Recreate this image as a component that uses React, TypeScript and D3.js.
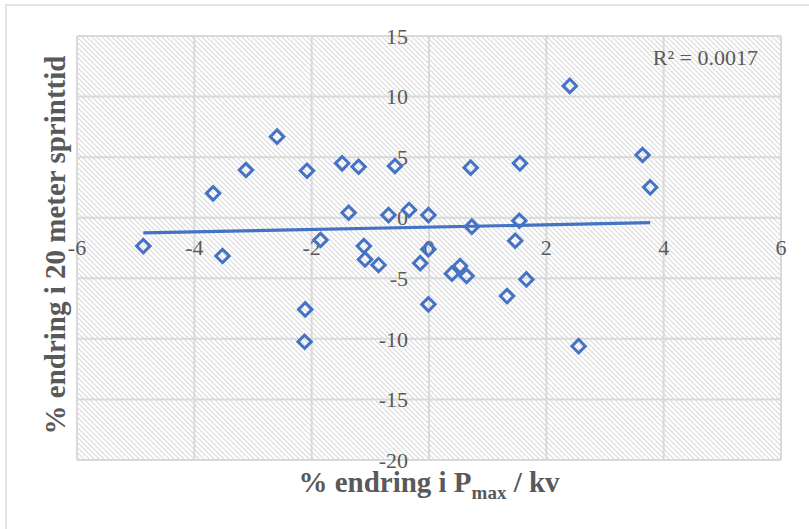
import React from 'react'
import * as d3 from 'd3'

// % change in Pmax / kv
const pmaxChange = [
    -4.87, -3.68, -3.52, -3.12, -2.59, -2.08, -1.85, -1.48, -1.37, -1.2,
    -1.11, -1.09, -0.86, -0.69, -0.58, -0.34, -0.01, -0.01, -0.15, -2.11,
    -2.12, -0.01, 0.39, 0.53, 0.64, 1.33, 1.66, 2.55, 2.4, 0.71,
    1.55, 3.64, 3.77, 0.73, 1.54, 1.47,
]
// % change in 20 m sprint time
const sprintChange = [
    -2.34, 2.01, -3.16, 3.94, 6.69, 3.88, -1.84, 4.49, 0.41, 4.21,
    -2.34, -3.44, -3.9, 0.22, 4.27, 0.64, 0.22, -2.6, -3.75, -7.57,
    -10.24, -7.15, -4.62, -3.99, -4.81, -6.47, -5.09, -10.6, 10.88, 4.13,
    4.49, 5.18, 2.51, -0.74, -0.25, -1.9,
]
const xTicks = [-6, -4, -2, 0, 2, 4, 6]
const yTicks = [15, 10, 5, 0, -5, -10, -15, -20]

// linear trendline as shown in the chart
const trendSlope = 0.098
const trendIntercept = -0.78
const rSquared = '0.0017'

const W = 809
const H = 529
const plot = { left: 77, right: 781, top: 36, bottom: 460 }
const blue = '#4472C4'
const grid = '#d9d9d9'
const textGray = '#595959'
const serif = '"Liberation Serif", "Times New Roman", serif'

const App = () => {
    const x = d3.scaleLinear().domain([-6, 6]).range([plot.left, plot.right])
    const y = d3.scaleLinear().domain([-20, 15]).range([plot.bottom, plot.top])

    const points = pmaxChange.map((v, i) => ({ x: v, y: sprintChange[i] }))
    const xMin = d3.min(pmaxChange)
    const xMax = d3.max(pmaxChange)
    const trend = [xMin, xMax].map(v => ({ x: v, y: trendIntercept + trendSlope * v }))
    const line = d3.line().x(d => x(d.x)).y(d => y(d.y))
    const diamond = d3.symbol().type(d3.symbolSquare).size(90)

    return (
        <svg
            width={W}
            height={H}
            style={{ position: 'absolute', left: 0, top: 0, background: '#fff' }}
        >
            <defs>
                <pattern id='hatch' patternUnits='userSpaceOnUse' width='5' height='5'>
                    <path
                        d='M0,0 L5,5 M-1,4 L1,6 M4,-1 L6,1'
                        stroke={grid}
                        strokeWidth='1.1'
                    />
                </pattern>
            </defs>

            {/* chart area border */}
            <rect x={6} y={5} width={W + 20} height={H + 20} fill='#fff' stroke={grid} strokeWidth='1.5' />

            {/* plot area */}
            <rect
                x={plot.left}
                y={plot.top}
                width={plot.right - plot.left}
                height={plot.bottom - plot.top}
                fill='url(#hatch)'
            />

            <g className='grid'>
                {yTicks.map(t => (
                    <line key={'y' + t} x1={plot.left} x2={plot.right} y1={y(t)} y2={y(t)} stroke={grid} strokeWidth='2' />
                ))}
                {xTicks.map(t => (
                    <line key={'x' + t} x1={x(t)} x2={x(t)} y1={plot.top} y2={plot.bottom} stroke={grid} strokeWidth='2' />
                ))}
            </g>

            {/* tick labels sit on the crossing axes */}
            <g fontFamily={serif} fontSize='22' fill={textGray}>
                {yTicks.map(t => (
                    <text key={'yl' + t} x={x(0) - 21} y={y(t)} dy='0.35em' textAnchor='end'>
                        {t}
                    </text>
                ))}
                {xTicks.map(t => (
                    <text key={'xl' + t} x={x(t)} y={y(0) + 37} textAnchor='middle'>
                        {t}
                    </text>
                ))}
            </g>

            <path d={line(trend)} fill='none' stroke={blue} strokeWidth='3.2' />

            <g>
                {points.map((d, i) => (
                    <path
                        key={i}
                        d={diamond()}
                        transform={`translate(${x(d.x)}, ${y(d.y)}) rotate(45)`}
                        fill='none'
                        stroke={blue}
                        strokeWidth='3'
                    />
                ))}
            </g>

            <text x={758} y={65} textAnchor='end' fontFamily={serif} fontSize='22' fill={textGray}>
                R² = {rSquared}
            </text>

            <text
                x={(plot.left + plot.right) / 2}
                y={492}
                textAnchor='middle'
                fontFamily={serif}
                fontSize='29'
                fontWeight='bold'
                fill={textGray}
            >
                % endring i P
                <tspan fontSize='19' dy='7'>max</tspan>
                <tspan dy='-7'> / kv</tspan>
            </text>

            <text
                transform={`translate(65, 245) rotate(-90)`}
                textAnchor='middle'
                fontFamily={serif}
                fontSize='29'
                fontWeight='bold'
                fill={textGray}
            >
                % endring i 20 meter sprinttid
            </text>
        </svg>
    )
}

export default App
